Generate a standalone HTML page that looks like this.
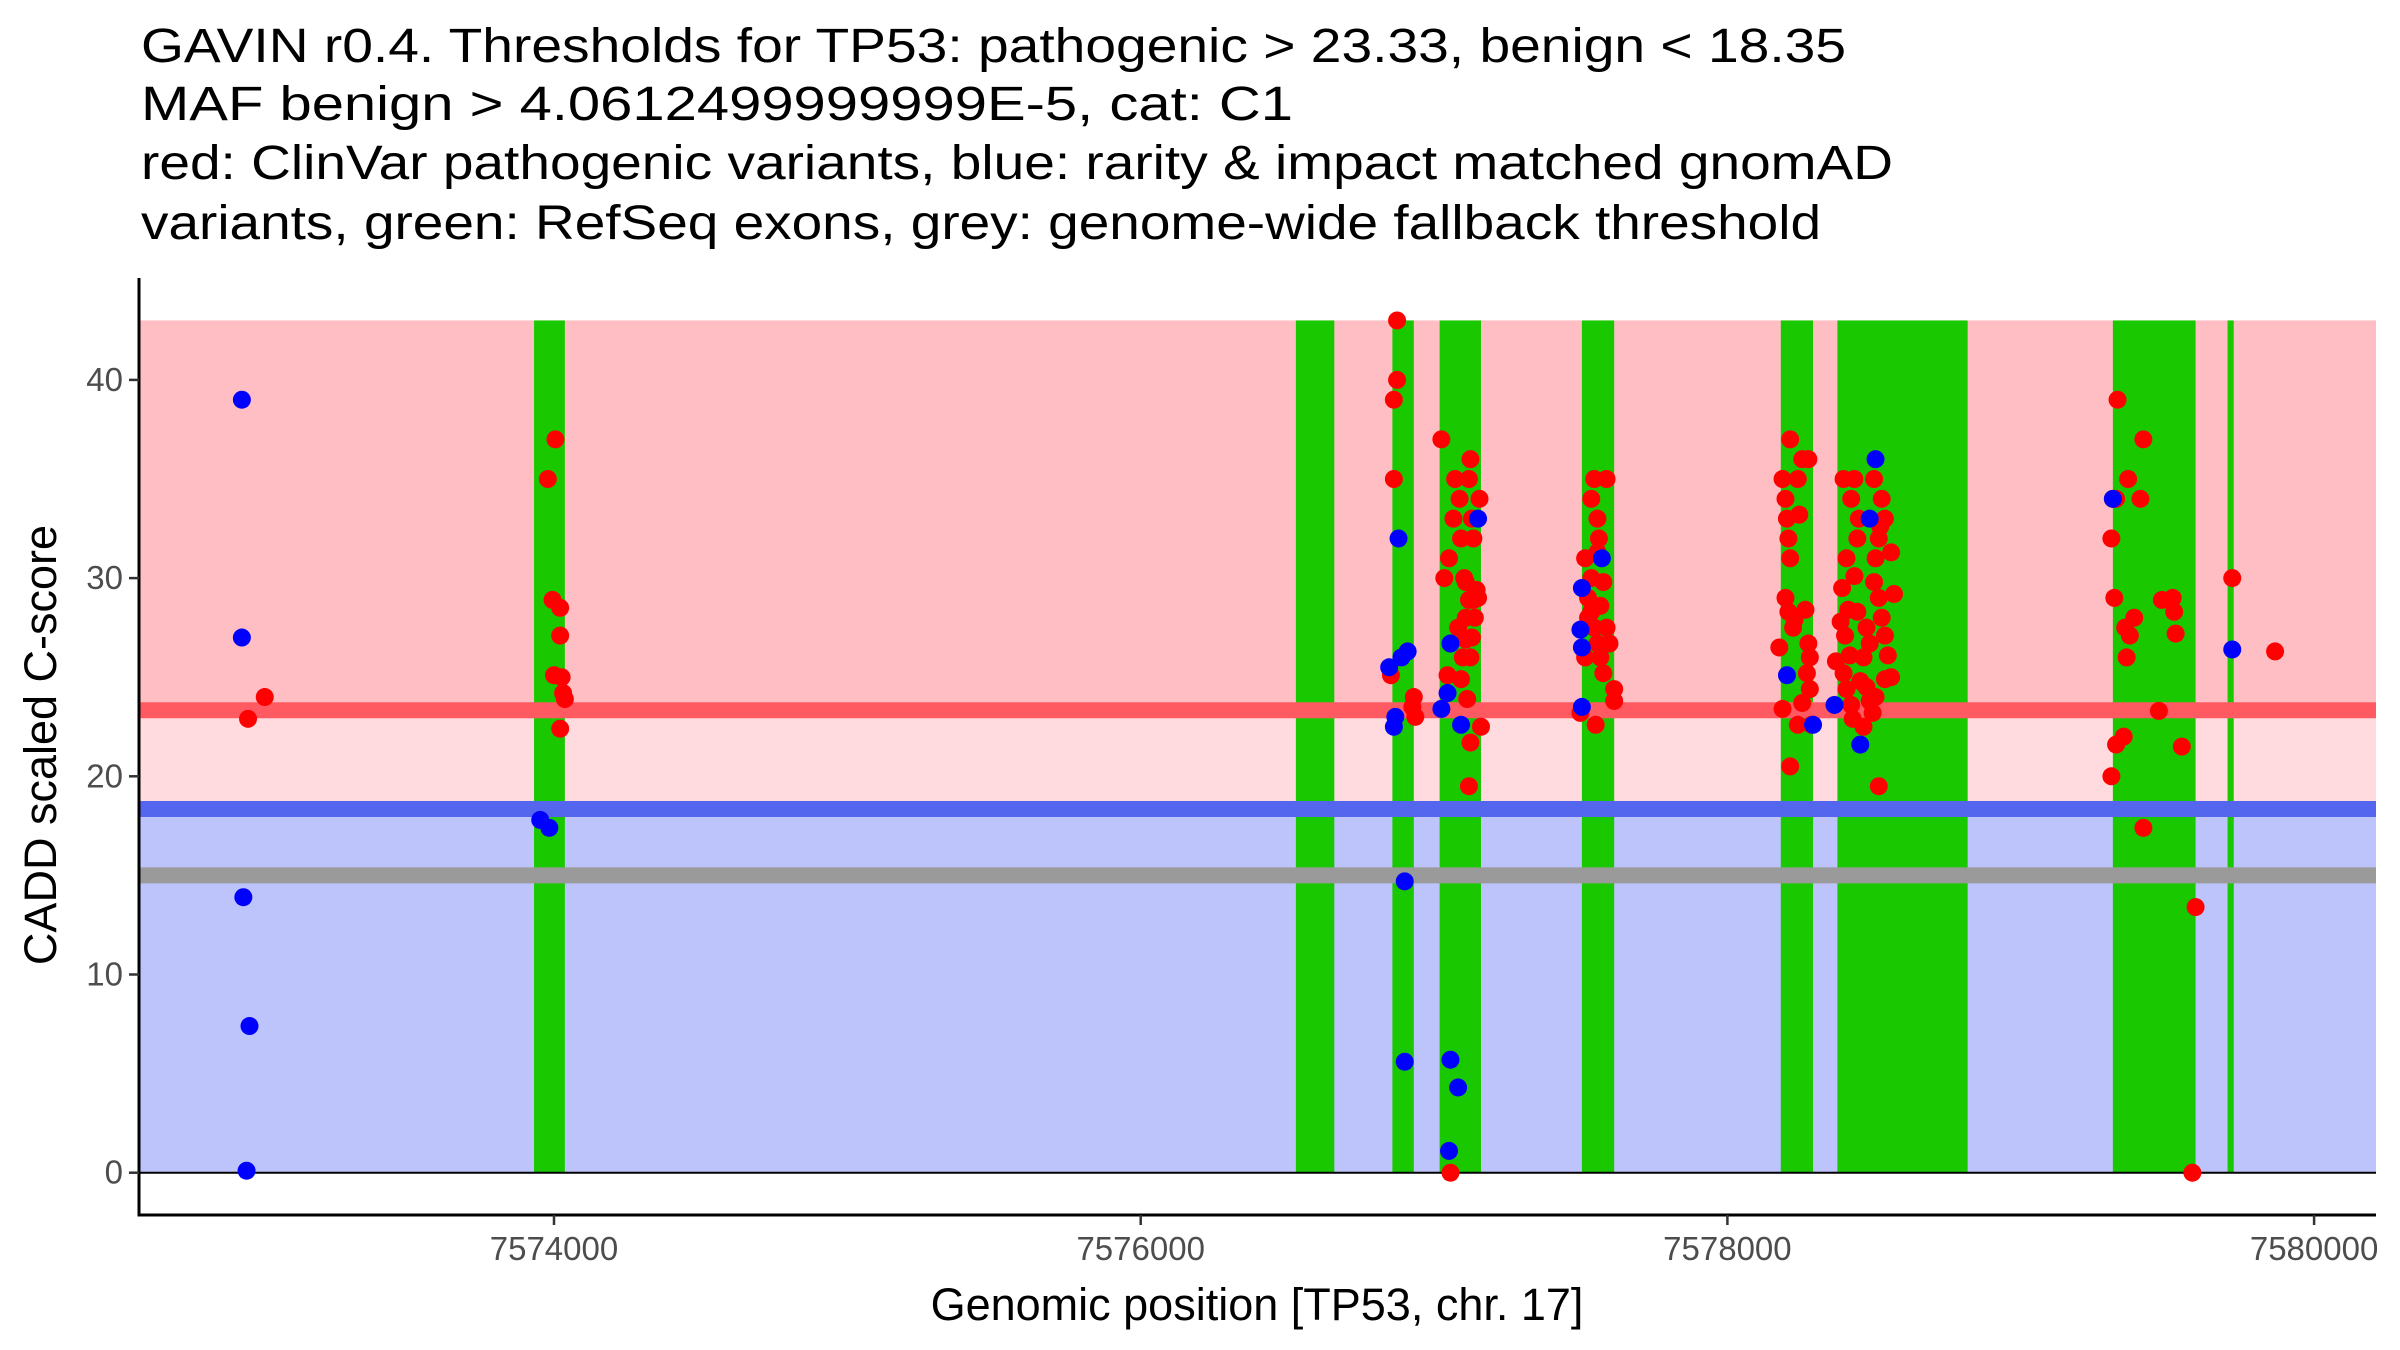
<!DOCTYPE html>
<html><head><meta charset="utf-8"><style>
html,body{margin:0;padding:0;background:#fff;}
svg{display:block;font-family:"Liberation Sans",Arial,sans-serif;}
</style></head><body>
<svg id="chart" width="2400" height="1350" viewBox="0 0 2400 1350" xmlns="http://www.w3.org/2000/svg">
<g font-size="48" fill="#000">
<text x="141" y="62" textLength="1705" lengthAdjust="spacingAndGlyphs">GAVIN r0.4. Thresholds for TP53: pathogenic &gt; 23.33, benign &lt; 18.35</text>
<text x="141" y="120" textLength="1152" lengthAdjust="spacingAndGlyphs">MAF benign &gt; 4.0612499999999E-5, cat: C1</text>
<text x="141" y="179" textLength="1752" lengthAdjust="spacingAndGlyphs">red: ClinVar pathogenic variants, blue: rarity &amp; impact matched gnomAD</text>
<text x="141" y="239" textLength="1680" lengthAdjust="spacingAndGlyphs">variants, green: RefSeq exons, grey: genome-wide fallback threshold</text>
</g>
<g id="plot"></g>
</svg>
<script>
const exonStart=[7573932,7576529,7576858,7577019,7577504,7578182,7578375,7579314,7579705];
const exonEnd=[7574037,7576660,7576931,7577160,7577614,7578292,7578819,7579596,7579726];
const pathoThreshold=23.33, benignThreshold=18.35, fallbackThreshold=15, maxScore=43;
const xTicks=[7574000,7576000,7578000,7580000];
const yTicks=[0,10,20,30,40];
const bluePos=[7572936,7572936,7572941,7572962,7572952,7573953,7573984,7576847,7576868,7576863,7576879,7576889,7576910,7576900,7576900,7577025,7577046,7577056,7577056,7577082,7577051,7577092,7577150,7577504,7577499,7577504,7577504,7577572,7578203,7578292,7578365,7578453,7578505,7578485,7579314,7579721];
const blueScore=[39,27,13.9,7.4,0.1,17.8,17.4,25.5,23,22.5,32,26,26.3,14.7,5.6,23.4,24.2,26.7,5.7,4.3,1.1,22.6,33,29.5,27.4,26.5,23.5,31,25.1,22.6,23.6,21.6,36,33,34,26.4];
const redPos=[7572957,7573014,7573979,7574005,7573995,7574021,7574021,7574000,7574026,7574031,7574037,7574021,
7576874,7576874,7576863,7576863,7576853,7576931,7576926,7576936,
7577025,7577035,7577046,7577056,7577051,7577066,7577072,7577087,7577092,7577103,7577108,7577119,7577124,7577129,7577134,7577139,7577108,7577098,7577092,7577113,7577124,7577119,7577155,7577160,7577134,7577145,7577129,7577124,7577119,7577082,7577108,7577150,
7577515,7577536,7577546,7577557,7577562,7577525,7577536,7577546,7577557,7577567,7577577,7577588,7577551,7577567,7577588,7577598,7577614,7577614,7577499,7577536,7577577,7577557,7577515,7577525,
7578214,7578188,7578198,7578203,7578208,7578214,7578198,7578208,7578224,7578177,7578188,7578214,7578240,7578255,7578276,7578245,7578266,7578276,7578281,7578271,7578281,7578255,7578240,7578287,7578229,
7578396,7578422,7578433,7578448,7578443,7578406,7578391,7578412,7578401,7578417,7578396,7578406,7578422,7578464,7578485,7578500,7578526,7578537,7578516,7578505,7578500,7578516,7578526,7578537,7578547,7578558,7578505,7578495,7578516,7578474,7578464,7578453,7578485,7578443,7578433,7578568,7578558,7578537,7578370,7578386,7578474,7578427,7578521,
7579330,7579314,7579325,7579309,7579319,7579351,7579325,7579309,7579356,7579366,7579361,7579372,7579387,7579418,7579408,7579418,7579471,7579481,7579518,7579523,7579528,7579549,7579596,7579585,7579721,7579867];
const redScore=[22.9,24,35,37,28.9,28.5,27.1,25.1,25,24.2,23.9,22.4,
43,40,39,35,25.1,24,23.5,23,
37,30,25.1,0,31,33,35,34,32,30,28,35,36,33,32,28,26.9,26,24.9,23.9,21.7,19.5,34,22.5,28.9,29.4,27,26,28.9,27.5,29.8,29,
31,34,35,33,32,29,28.3,27.5,26.7,26,25.2,35,22.6,28.6,27.5,26.7,24.4,23.8,23.2,30,29.8,31.3,26,28,
37,35,34,33,32,31,29,28.3,27.5,26.5,23.4,20.5,35,36,36,33.2,28.4,26.7,26,25.2,24.4,23.7,22.6,22.6,27.9,
35,34,35,33,32,31,29.5,28.4,27.1,26.1,25.2,24.4,23.6,22.5,23.8,35,34,33,32,31,29.8,29,28,27.1,26.1,25,24,23.2,19.5,27.5,26,24.8,26.7,28.3,30.1,29.2,31.3,24.9,25.8,27.8,24.5,22.9,32.6,
39,34,34,32,29,22,21.6,20,27.5,35,26,27.1,28,37,34,17.4,23.3,28.9,29,28.3,27.2,21.5,13.4,0,30,26.3];

const NS='http://www.w3.org/2000/svg';
const g=document.getElementById('plot');
const L=139,R=2376,T=278,B=1215;
function xs(v){return 554+(v-7574000)*586.7/2000;}
function ys(v){return 1172.7-v*19.82;}
function mk(tag,attrs,parent){const e=document.createElementNS(NS,tag);for(const k in attrs)e.setAttribute(k,attrs[k]);(parent||g).appendChild(e);return e;}
let e;
e=mk('rect',{x:L,y:ys(maxScore),width:R-L,height:ys(pathoThreshold)-ys(maxScore),fill:'#FEBEC3'});


e=mk('rect',{x:L,y:ys(pathoThreshold),width:R-L,height:ys(benignThreshold)-ys(pathoThreshold),fill:'#FFDADE'});


e=mk('rect',{x:L,y:ys(benignThreshold),width:R-L,height:ys(0)-ys(benignThreshold),fill:'#BDC3FB'});


for(let i=0;i<exonStart.length;i++){
  e=mk('rect',{x:xs(exonStart[i]),y:ys(maxScore),width:Math.max(2,xs(exonEnd[i])-xs(exonStart[i])),height:ys(0)-ys(maxScore),fill:'#1AC800'});
  
  
}
e=mk('line',{x1:L,x2:R,y1:ys(pathoThreshold),y2:ys(pathoThreshold),stroke:'#FF5A62','stroke-width':16});


e=mk('line',{x1:L,x2:R,y1:ys(benignThreshold),y2:ys(benignThreshold),stroke:'#5566EE','stroke-width':16});


e=mk('line',{x1:L,x2:R,y1:ys(fallbackThreshold),y2:ys(fallbackThreshold),stroke:'#9A9A9A','stroke-width':16});


e=mk('line',{x1:L,x2:R,y1:ys(0),y2:ys(0),stroke:'#000','stroke-width':2});


for(let i=0;i<redPos.length;i++){
  e=mk('circle',{cx:xs(redPos[i]),cy:ys(redScore[i]),r:9,fill:'#FF0000'});
  
  
}
for(let i=0;i<bluePos.length;i++){
  e=mk('circle',{cx:xs(bluePos[i]),cy:ys(blueScore[i]),r:9,fill:'#0000FF'});
  
  
}
e=mk('line',{x1:L,x2:L,y1:T,y2:B+1.5,stroke:'#000','stroke-width':3});


e=mk('line',{x1:L-1.5,x2:R,y1:B,y2:B,stroke:'#000','stroke-width':3});


xTicks.forEach(t=>{
  e=mk('line',{x1:xs(t),x2:xs(t),y1:B,y2:B+10,stroke:'#333','stroke-width':2.5});
  
  
  e=mk('text',{x:xs(t),y:B+45,'font-size':33,fill:'#4d4d4d','text-anchor':'middle'});
  e.textContent=t;
  
  
});
yTicks.forEach(t=>{
  e=mk('line',{x1:L-10,x2:L,y1:ys(t),y2:ys(t),stroke:'#333','stroke-width':2.5});
  
  
  e=mk('text',{x:L-16,y:ys(t)+11,'font-size':33,fill:'#4d4d4d','text-anchor':'end'});
  e.textContent=t;
  
  
});
e=mk('text',{x:1257,y:1320,'font-size':45,fill:'#000','text-anchor':'middle'});
e.textContent='Genomic position [TP53, chr. 17]';


e=mk('text',{x:0,y:0,'font-size':45,fill:'#000','text-anchor':'middle',transform:'translate(56,745) rotate(-90)'});
e.textContent='CADD scaled C-score';


</script>
</body></html>
